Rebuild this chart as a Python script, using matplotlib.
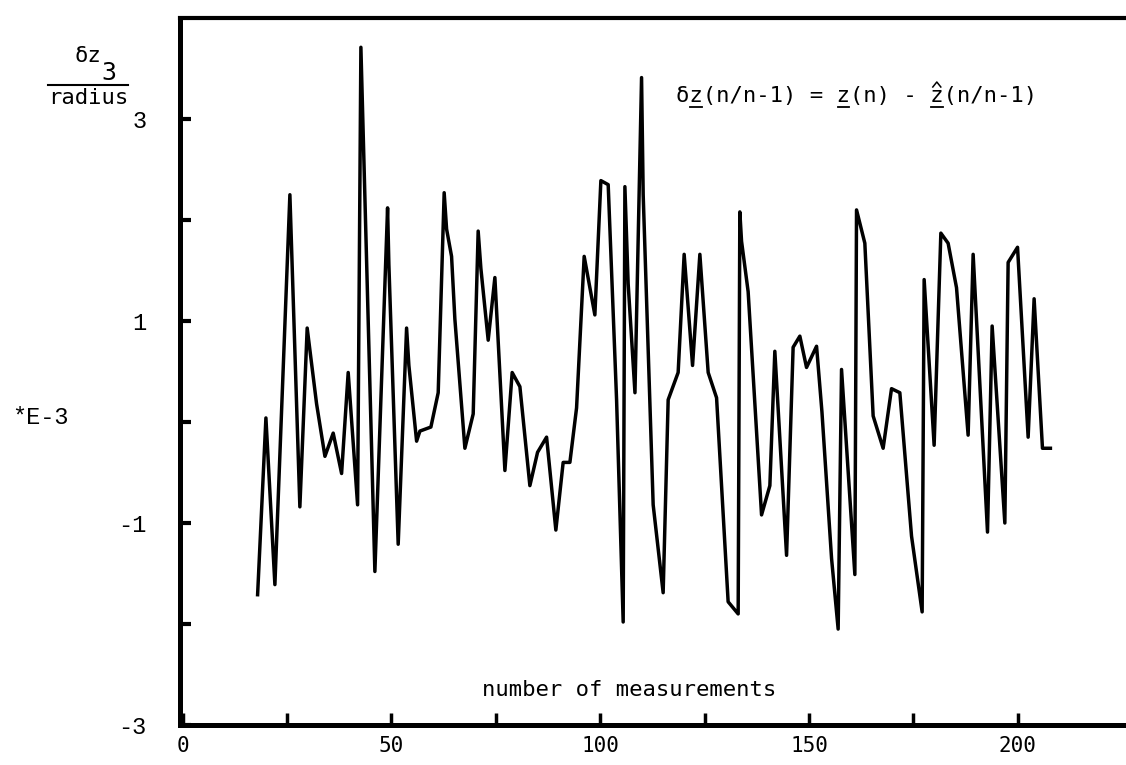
import matplotlib
matplotlib.use('Agg')
import matplotlib.pyplot as plt
from matplotlib.lines import Line2D

meas = [17.98, 19.97, 22.12, 25.71, 28.1, 29.85, 32.1, 34.1, 36.08, 38.09,
        39.67, 41.92, 42.71, 46.06, 49.1, 49.41, 51.64, 53.65, 54.2, 56.05,
        56.84, 59.47, 61.22, 62.65, 63.23, 64.42, 65.21, 67.61, 69.6, 70.79,
        71.44, 73.19, 74.79, 77.19, 78.93, 80.78, 83.17, 85.01, 87.17, 89.39,
        91.14, 92.75, 94.35, 96.17, 98.73, 100.17, 101.92, 103.93, 105.51, 105.92,
        106.7, 108.33, 109.91, 110.3, 112.69, 115.08, 116.28, 118.67, 120.11, 122.12,
        123.87, 125.86, 127.87, 130.64, 133.04, 133.44, 133.85, 135.43, 138.64, 140.63,
        141.82, 144.63, 146.2, 147.81, 149.41, 151.81, 153.1, 155.4, 156.98, 157.79,
        160.98, 161.38, 163.37, 165.36, 167.75, 169.76, 171.75, 174.55, 177.09, 177.57,
        179.96, 181.57, 183.31, 185.32, 188.1, 189.3, 192.74, 193.85, 196.89, 197.68,
        199.93, 202.47, 203.9, 205.9, 207.8]
dz = [-1.71, 0.04, -1.61, 2.25, -0.84, 0.93, 0.18, -0.34, -0.11, -0.51,
      0.49, -0.82, 3.71, -1.48, 2.12, 1.56, -1.21, 0.93, 0.56, -0.19,
      -0.09, -0.05, 0.29, 2.27, 1.91, 1.64, 1.02, -0.26, 0.08, 1.89,
      1.52, 0.81, 1.43, -0.48, 0.49, 0.35, -0.63, -0.30, -0.15, -1.07,
      -0.40, -0.40, 0.14, 1.64, 1.06, 2.39, 2.35, 0.22, -1.98, 2.33,
      1.37, 0.29, 3.41, 2.25, -0.82, -1.69, 0.22, 0.49, 1.66, 0.56,
      1.66, 0.49, 0.24, -1.78, -1.90, 2.08, 1.79, 1.29, -0.92, -0.63,
      0.70, -1.32, 0.74, 0.85, 0.54, 0.75, 0.10, -1.35, -2.05, 0.52,
      -1.51, 2.10, 1.77, 0.06, -0.26, 0.33, 0.29, -1.13, -1.88, 1.41,
      -0.23, 1.87, 1.77, 1.33, -0.13, 1.66, -1.09, 0.95, -1.00, 1.58,
      1.73, -0.15, 1.22, -0.26, -0.26]

ytick_vals = [-3, -2, -1, 0, 1, 2, 3]
ytick_labels = ['-3', '', '-1', '', '1', '', '3']
xtick_vals = [0, 25, 50, 75, 100, 125, 150, 175, 200]
xtick_labels = ['0', '', '50', '', '100', '', '150', '', '200']

W = 1126.
H = 765.
mono = 'DejaVu Sans Mono'

fig = plt.figure(figsize=(W/100, H/100), dpi=100)
ax = fig.add_axes([180/W, 40/H, (W-180)/W, 707/H])

ax.plot(meas, dz, color='black', lw=2.5)

ax.set_xlim(-0.6, 225.9)
ax.set_ylim(-3, 4)

ax.spines['right'].set_visible(False)
ax.spines['left'].set_linewidth(3.6)
ax.spines['bottom'].set_linewidth(3.6)
ax.spines['top'].set_linewidth(3.0)

ax.set_yticks(ytick_vals)
ax.set_yticklabels(ytick_labels, fontfamily='Liberation Mono', fontsize=17)
ax.set_xticks(xtick_vals)
ax.set_xticklabels(xtick_labels, fontfamily=mono, fontsize=15)
ax.tick_params(axis='y', direction='in', length=8, width=3, pad=24)
ax.tick_params(axis='x', direction='in', length=9, width=2.5, pad=8)

# axis annotations (positions in pixels from the top-left corner)
def ftext(x, y, s, **kw):
    return fig.text(x/W, 1 - y/H, s, **kw)

def fline(xs, ys, lw):
    fig.add_artist(Line2D([v/W for v in xs], [1 - v/H for v in ys],
                          color='black', lw=lw))

ftext(88, 56, 'δz', fontfamily=mono, fontsize=16, ha='center', va='center')
ftext(109, 73, '3', fontfamily=mono, fontsize=18, ha='center', va='center')
fline([48, 128], [85, 85], 1.5)
ftext(88, 98, 'radius', fontfamily=mono, fontsize=16, ha='center', va='center')
ftext(40, 418, '*E-3', fontfamily='Liberation Mono', fontsize=17, ha='center', va='center')

ftext(629, 690, 'number of measurements', fontfamily=mono, fontsize=16,
      ha='center', va='center')

# equation; underlines and the hat are drawn as strokes under/over the z's
eq = 'δz(n/n-1) = z(n) - z(n/n-1)'
x0, base = 676, 102
t = ftext(x0, base, eq, fontfamily=mono, fontsize=16, ha='left', va='baseline')
fig.canvas.draw()
bb = t.get_window_extent(fig.canvas.get_renderer())
cw = bb.width / len(eq)
for i in (1, 12, 19):
    fline([x0 + i*cw + 1, x0 + (i+1)*cw - 1], [base + 5, base + 5], 1.3)
hc = x0 + 19.5*cw
fline([hc - 4, hc, hc + 4], [base - 15, base - 20, base - 15], 1.1)

fig.savefig('out.png', dpi=100)
